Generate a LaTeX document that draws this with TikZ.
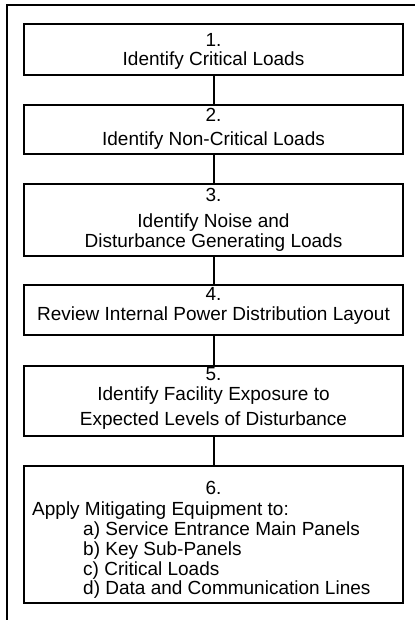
\documentclass[tikz,border=0pt]{standalone}
\usepackage{fontspec}
\setmainfont{Liberation Sans}
\begin{document}
\begin{tikzpicture}[x=1pt,y=1pt,
  stepbox/.style={draw=black,line width=2pt,minimum width=379pt,inner sep=0pt,fill=none},
  conn/.style={draw=black,line width=2pt},
  frame/.style={draw=black,line width=2pt},
  lbl/.style={anchor=base,inner sep=0pt,font=\fontsize{19}{20}\selectfont},
  lblw/.style={anchor=base west,inner sep=0pt,font=\fontsize{19}{20}\selectfont}]
\useasboundingbox (0,0) rectangle (415,-620);
\coordinate (fa) at (7,-620);
\coordinate (fb) at (7,-5);
\coordinate (fc) at (415,-5);
\draw[frame] (fa) -- (fb) -- (fc);
\node[stepbox,minimum height=51pt] (b1) at (213.5,-49.5) {};
\node[stepbox,minimum height=49pt] (b2) at (213.5,-129.5) {};
\node[stepbox,minimum height=72pt] (b3) at (213.5,-220) {};
\node[stepbox,minimum height=50pt] (b4) at (213.5,-310) {};
\node[stepbox,minimum height=70pt] (b5) at (213.5,-401) {};
\node[stepbox,minimum height=137pt] (b6) at (213.5,-534.5) {};
\draw[conn] (b1.south) -- (b2.north);
\draw[conn] (b2.south) -- (b3.north);
\draw[conn] (b3.south) -- (b4.north);
\draw[conn] (b4.south) -- (b5.north);
\draw[conn] (b5.south) -- (b6.north);
\node[lbl] (t1a) at (213.5,-47) {1.};
\node[lbl] (t1b) at (213.5,-66) {Identify Critical Loads};
\node[lbl] (t2a) at (213.5,-122) {2.};
\node[lbl] (t2b) at (213.5,-146) {Identify Non-Critical Loads};
\node[lbl] (t3a) at (213.5,-202) {3.};
\node[lbl] (t3b) at (213.5,-227) {Identify Noise and};
\node[lbl] (t3c) at (213.5,-247) {Disturbance Generating Loads};
\node[lbl] (t4a) at (213.5,-300) {4.};
\node[lbl] (t4b) at (213.5,-320) {Review Internal Power Distribution Layout};
\node[lbl] (t5a) at (213.5,-380) {5.};
\node[lbl] (t5b) at (213.5,-400) {Identify Facility Exposure to};
\node[lbl] (t5c) at (213.5,-425) {Expected Levels of Disturbance};
\node[lbl] (t6a) at (213.5,-494) {6.};
\node[lblw] (t6b) at (32,-515) {Apply Mitigating Equipment to:};
\node[lblw] (t6c) at (83,-535) {a) Service Entrance Main Panels};
\node[lblw] (t6d) at (83,-555) {b) Key Sub-Panels};
\node[lblw] (t6e) at (83,-575) {c) Critical Loads};
\node[lblw] (t6f) at (83,-594) {d) Data and Communication Lines};
\end{tikzpicture}
\end{document}
